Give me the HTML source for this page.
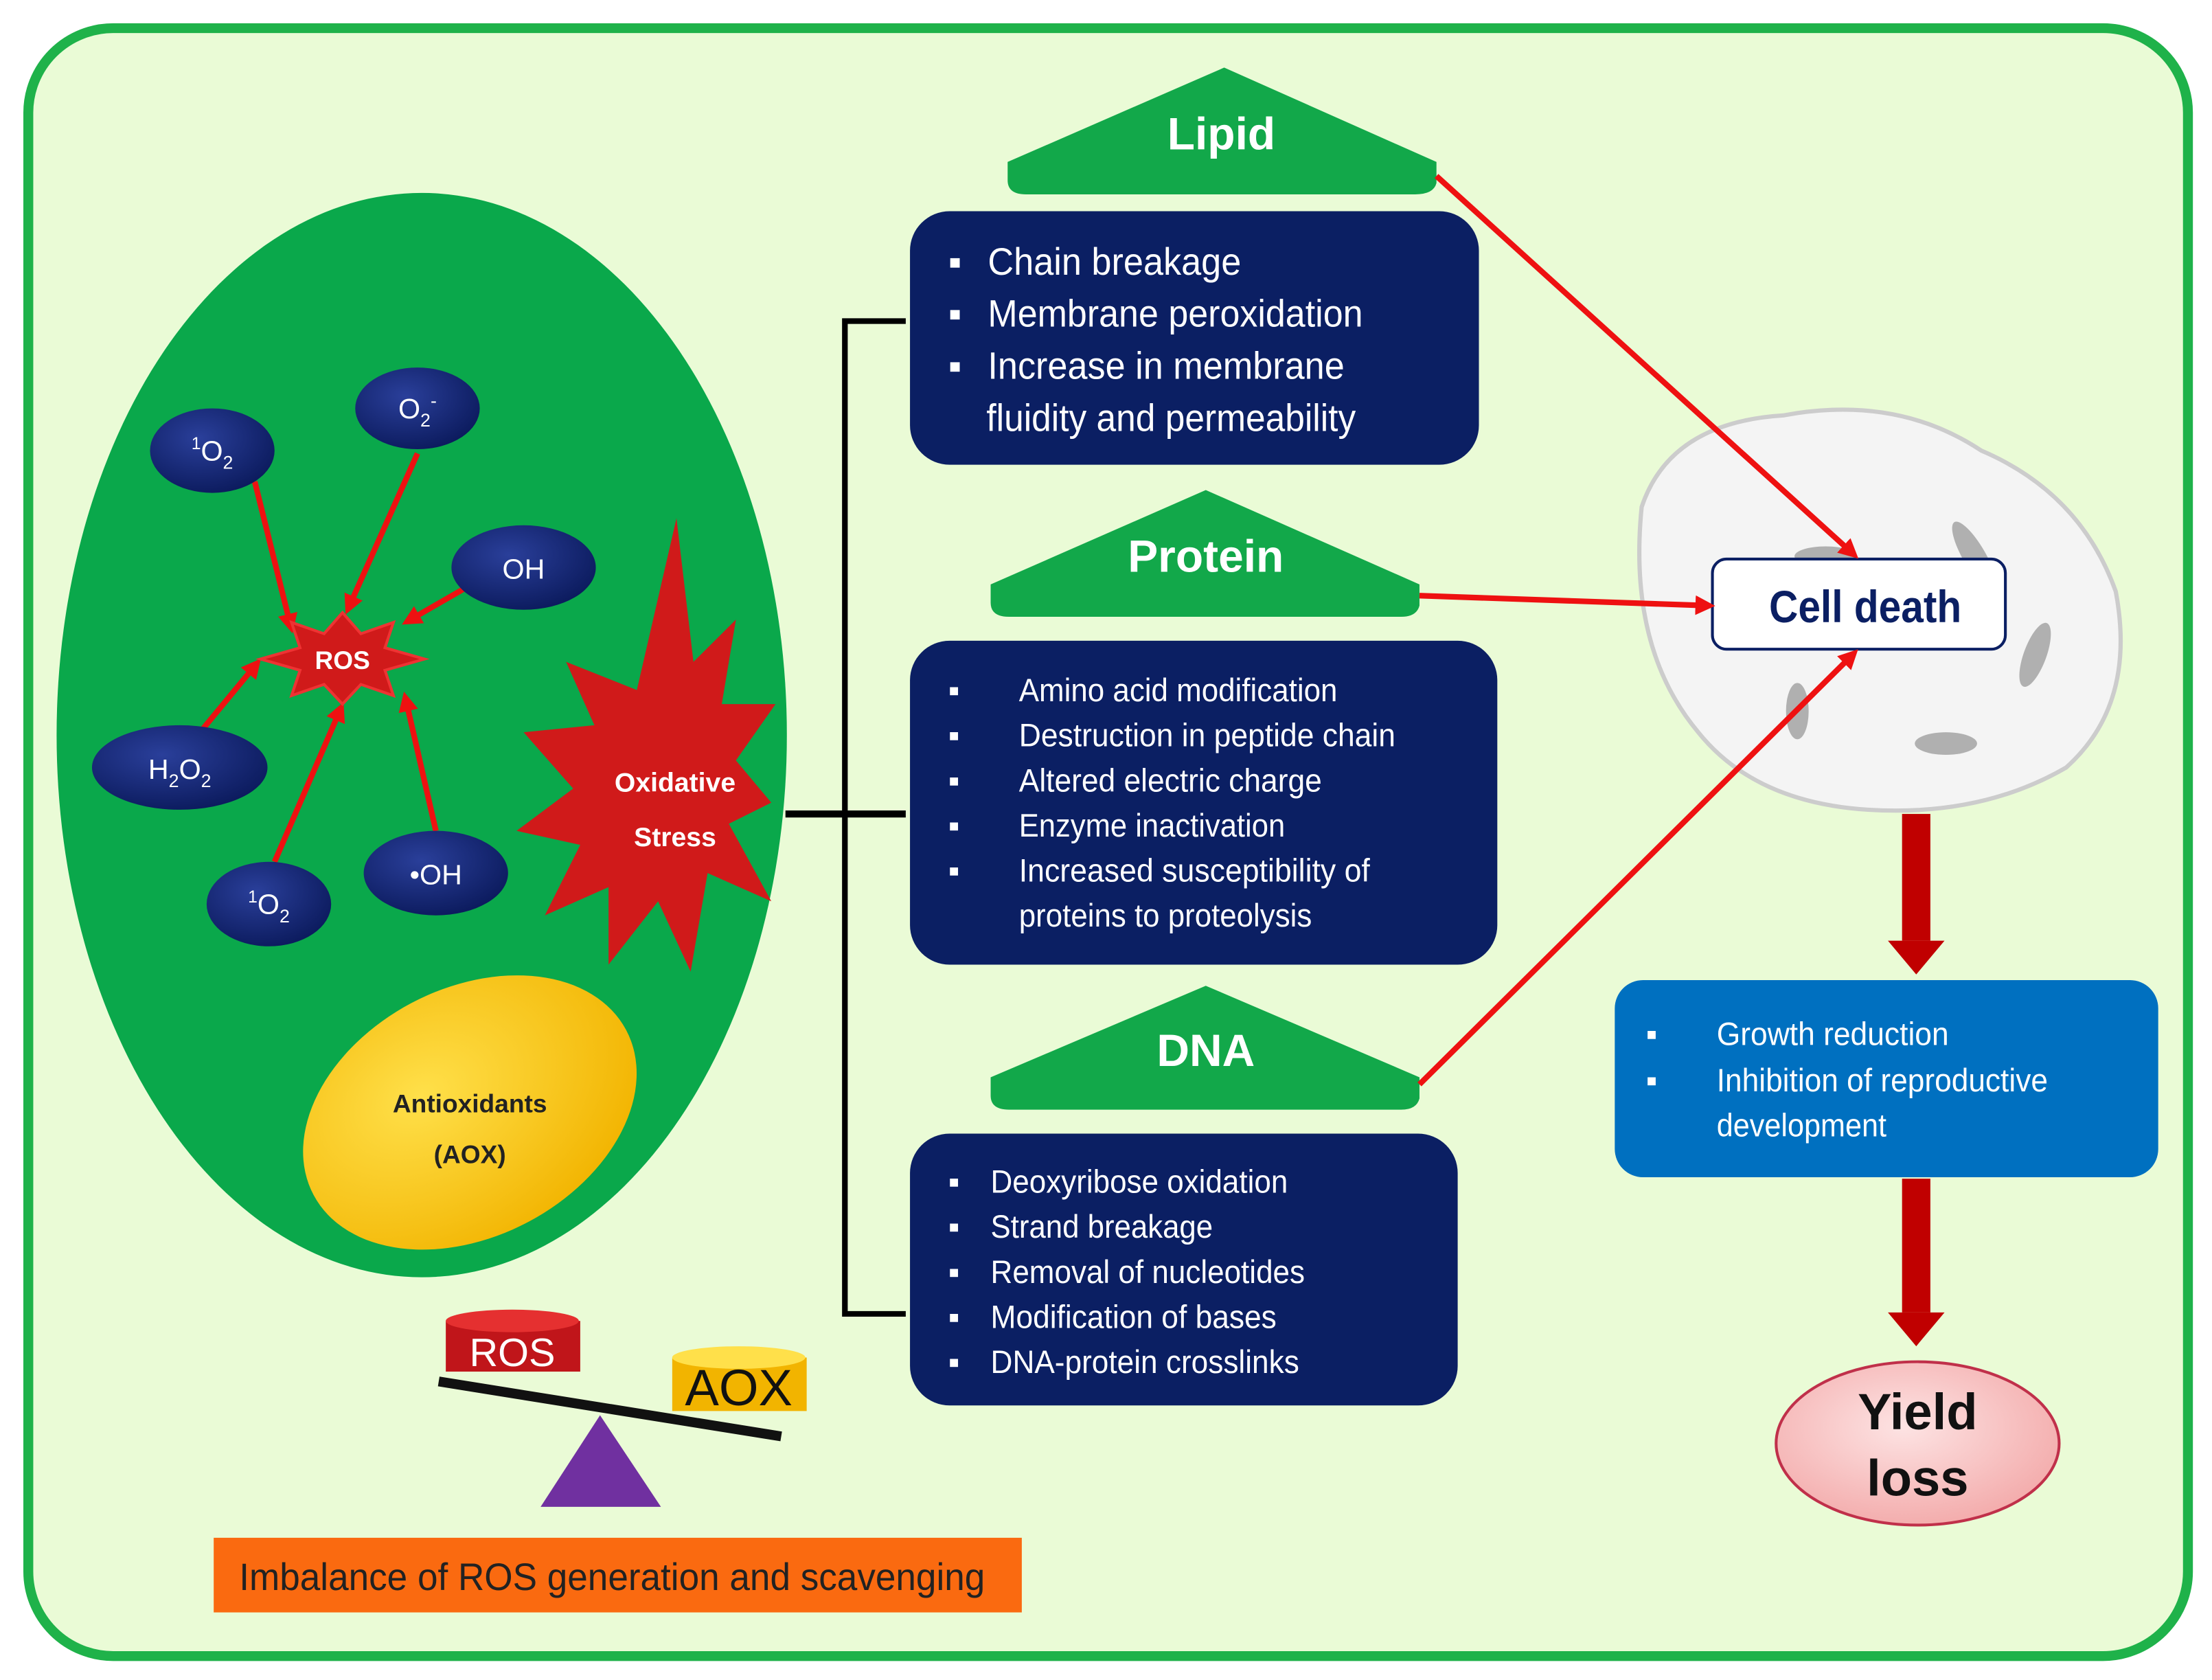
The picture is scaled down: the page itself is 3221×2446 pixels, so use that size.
<!DOCTYPE html>
<html><head><meta charset="utf-8"><style>
html,body{margin:0;padding:0;background:#fff;}
svg{display:block;}
text{font-family:"Liberation Sans",sans-serif;}
</style></head><body>
<svg width="3221" height="2446" viewBox="0 0 1563 1193" preserveAspectRatio="none" xmlns="http://www.w3.org/2000/svg">
<defs>
<marker id="ar2" markerWidth="14" markerHeight="14" refX="7" refY="7" orient="auto" markerUnits="userSpaceOnUse"><path d="M0,0 L14,7 L0,14 z" fill="#ee1111"/></marker>
<radialGradient id="nv" cx="0.4" cy="0.35" r="0.7"><stop offset="0" stop-color="#2a3f9a"/><stop offset="1" stop-color="#0b1a5c"/></radialGradient>
<radialGradient id="yl" cx="0.4" cy="0.35" r="0.7"><stop offset="0" stop-color="#ffe04a"/><stop offset="1" stop-color="#f2b400"/></radialGradient>
<radialGradient id="pk" cx="0.45" cy="0.4" r="0.7"><stop offset="0" stop-color="#fde3e3"/><stop offset="1" stop-color="#f2a4a4"/></radialGradient>
</defs>
<rect x="0" y="0" width="1563" height="1193" fill="#fff"/>
<rect x="20" y="20" width="1526" height="1156" rx="60" fill="#eafbd6" stroke="#1fb24a" stroke-width="7"/>
<ellipse cx="298" cy="522" rx="258" ry="385" fill="#0aa84b"/>
<g stroke="#ee1111" stroke-width="4" fill="none">
<line x1="180" y1="342" x2="205" y2="443" marker-end="url(#ar2)"/>
<line x1="295" y1="322" x2="247" y2="430" marker-end="url(#ar2)"/>
<line x1="328" y1="418" x2="290" y2="440" marker-end="url(#ar2)"/>
<line x1="143" y1="518" x2="180" y2="473" marker-end="url(#ar2)"/>
<line x1="194" y1="612" x2="240" y2="505" marker-end="url(#ar2)"/>
<line x1="308" y1="590" x2="287" y2="498" marker-end="url(#ar2)"/>
</g>
<g fill="url(#nv)">
<ellipse cx="150" cy="320" rx="44" ry="30"/>
<ellipse cx="295" cy="290" rx="44" ry="29"/>
<ellipse cx="370" cy="403" rx="51" ry="30"/>
<ellipse cx="127" cy="545" rx="62" ry="30"/>
<ellipse cx="190" cy="642" rx="44" ry="30"/>
<ellipse cx="308" cy="620" rx="51" ry="30"/>
</g>
<g fill="#fff" font-size="20" text-anchor="middle">
<text x="150" y="327"><tspan font-size="12" dy="-8">1</tspan><tspan dy="8">O</tspan><tspan font-size="13" dy="6">2</tspan></text>
<text x="295" y="297">O<tspan font-size="13" dy="6">2</tspan><tspan font-size="13" dy="-14">-</tspan></text>
<text x="370" y="411">OH</text>
<text x="127" y="553">H<tspan font-size="13" dy="6">2</tspan><tspan dy="-6">O</tspan><tspan font-size="13" dy="6">2</tspan></text>
<text x="190" y="649"><tspan font-size="12" dy="-8">1</tspan><tspan dy="8">O</tspan><tspan font-size="13" dy="6">2</tspan></text>
<text x="308" y="628">•OH</text>
</g>
<polygon points="242,435 255,450 278,442 272,460 300,468 272,476 278,494 255,486 242,500 229,486 206,494 212,476 184,468 212,460 206,442 229,450" fill="#d01a1a" stroke="#ee3333" stroke-width="2"/>
<text x="242" y="475" fill="#fff" font-size="18" font-weight="bold" text-anchor="middle">ROS</text>
<polygon points="478,368 490,470 520,440 510,500 548,500 520,540 545,570 515,585 545,640 500,620 488,690 465,640 430,685 430,630 385,650 410,600 365,590 405,560 370,520 420,515 400,470 450,490" fill="#d01a1a"/>
<text x="477" y="562" fill="#fff" font-size="19" font-weight="bold" text-anchor="middle">Oxidative</text>
<text x="477" y="601" fill="#fff" font-size="19" font-weight="bold" text-anchor="middle">Stress</text>
<ellipse cx="332" cy="790" rx="125" ry="88" transform="rotate(-28 332 790)" fill="url(#yl)"/>
<text x="332" y="790" font-size="18" font-weight="bold" text-anchor="middle" fill="#222">Antioxidants</text>
<text x="332" y="826" font-size="18" font-weight="bold" text-anchor="middle" fill="#222">(AOX)</text>
<polygon points="424,1005 382,1070 467,1070" fill="#7030a0"/>
<line x1="310" y1="981" x2="552" y2="1020" stroke="#111" stroke-width="7"/>
<rect x="315" y="938" width="95" height="36" fill="#c0151a"/>
<ellipse cx="362" cy="938" rx="47" ry="8" fill="#e53030"/>
<text x="362" y="970" fill="#fff" font-size="28" text-anchor="middle">ROS</text>
<rect x="475" y="964" width="95" height="38" fill="#f2b400"/>
<ellipse cx="522" cy="964" rx="47" ry="8" fill="#ffe04a"/>
<text x="522" y="998" fill="#111" font-size="36" text-anchor="middle">AOX</text>
<rect x="151" y="1092" width="571" height="53" fill="#fa6a10"/>
<text x="169" y="1129" font-size="27" fill="#222" textLength="527" lengthAdjust="spacingAndGlyphs">Imbalance of ROS generation and  scavenging</text>
<path d="M640,228 L597,228 L597,933 L640,933" stroke="#000" stroke-width="4" fill="none"/>
<path d="M555,578 L640,578" stroke="#000" stroke-width="5"/>
<g fill="#12a84a">
<path d="M865,48 L1015,115 L1015,130 Q1013,138 1000,138 L725,138 Q712,138 712,128 L712,115 Z"/>
<path d="M852,348 L1003,415 L1003,430 Q1001,438 990,438 L713,438 Q700,438 700,428 L700,415 Z"/>
<path d="M852,700 L1003,765 L1003,780 Q1001,788 990,788 L713,788 Q700,788 700,778 L700,765 Z"/>
</g>
<g fill="#fff" font-size="32" font-weight="bold" text-anchor="middle">
<text x="863" y="106">Lipid</text>
<text x="852" y="406">Protein</text>
<text x="852" y="757">DNA</text>
</g>
<g fill="#0b1f63">
<rect x="643" y="150" width="402" height="180" rx="28"/>
<rect x="643" y="455" width="415" height="230" rx="28"/>
<rect x="643" y="805" width="387" height="193" rx="28"/>
</g>
<g fill="#fff" font-size="27" lengthAdjust="spacingAndGlyphs">
<text x="670" y="195">▪</text><text x="698" y="195" textLength="179" lengthAdjust="spacingAndGlyphs">Chain breakage</text>
<text x="670" y="232">▪</text><text x="698" y="232" textLength="265" lengthAdjust="spacingAndGlyphs">Membrane peroxidation</text>
<text x="670" y="269">▪</text><text x="698" y="269" textLength="252" lengthAdjust="spacingAndGlyphs">Increase in membrane</text>
<text x="697" y="306" textLength="261" lengthAdjust="spacingAndGlyphs">fluidity and permeability</text>
</g>
<g fill="#fff" font-size="23">
<text x="670" y="498">▪</text><text x="720" y="498" textLength="225" lengthAdjust="spacingAndGlyphs">Amino acid modification</text>
<text x="670" y="530">▪</text><text x="720" y="530" textLength="266" lengthAdjust="spacingAndGlyphs">Destruction in peptide chain</text>
<text x="670" y="562">▪</text><text x="720" y="562" textLength="214" lengthAdjust="spacingAndGlyphs">Altered electric charge</text>
<text x="670" y="594">▪</text><text x="720" y="594" textLength="188" lengthAdjust="spacingAndGlyphs">Enzyme inactivation</text>
<text x="670" y="626">▪</text><text x="720" y="626" textLength="248" lengthAdjust="spacingAndGlyphs">Increased susceptibility of</text>
<text x="720" y="658" textLength="207" lengthAdjust="spacingAndGlyphs">proteins to proteolysis</text>
</g>
<g fill="#fff" font-size="23">
<text x="670" y="847">▪</text><text x="700" y="847" textLength="210" lengthAdjust="spacingAndGlyphs">Deoxyribose oxidation</text>
<text x="670" y="879">▪</text><text x="700" y="879" textLength="157" lengthAdjust="spacingAndGlyphs">Strand breakage</text>
<text x="670" y="911">▪</text><text x="700" y="911" textLength="222" lengthAdjust="spacingAndGlyphs">Removal of nucleotides</text>
<text x="670" y="943">▪</text><text x="700" y="943" textLength="202" lengthAdjust="spacingAndGlyphs">Modification of bases</text>
<text x="670" y="975">▪</text><text x="700" y="975" textLength="218" lengthAdjust="spacingAndGlyphs">DNA-protein crosslinks</text>
</g>
<path d="M1160,360 Q1180,300 1260,295 Q1340,280 1400,320 Q1470,350 1495,420 Q1510,500 1460,545 Q1400,580 1320,575 Q1240,570 1200,520 Q1150,460 1160,360 Z" fill="#f4f4f4" stroke="#ccc" stroke-width="3"/>
<g fill="#b0b0b0">
<ellipse cx="1395" cy="395" rx="8" ry="28" transform="rotate(-30 1395 395)"/>
<ellipse cx="1438" cy="465" rx="8" ry="24" transform="rotate(20 1438 465)"/>
<ellipse cx="1375" cy="528" rx="22" ry="8"/>
<ellipse cx="1270" cy="505" rx="8" ry="20"/>
<ellipse cx="1290" cy="395" rx="22" ry="7"/>
</g>
<rect x="1210" y="397" width="207" height="64" rx="10" fill="#fff" stroke="#0b1f63" stroke-width="2"/>
<text x="1250" y="442" fill="#0b1f63" font-size="32" font-weight="bold" textLength="136" lengthAdjust="spacingAndGlyphs">Cell death</text>
<g stroke="#ee1111" stroke-width="4" fill="none">
<line x1="1015" y1="125" x2="1308" y2="392" marker-end="url(#ar2)"/>
<line x1="1003" y1="423" x2="1205" y2="430" marker-end="url(#ar2)"/>
<line x1="1003" y1="770" x2="1308" y2="466" marker-end="url(#ar2)"/>
</g>
<g fill="#c00000">
<rect x="1344" y="578" width="20" height="90"/>
<polygon points="1334,668 1374,668 1354,692"/>
<rect x="1344" y="837" width="20" height="95"/>
<polygon points="1334,932 1374,932 1354,956"/>
</g>
<rect x="1141" y="696" width="384" height="140" rx="20" fill="#0070c0"/>
<g fill="#fff" font-size="23">
<text x="1163" y="742">▪</text><text x="1213" y="742" textLength="164" lengthAdjust="spacingAndGlyphs">Growth reduction</text>
<text x="1163" y="775">▪</text><text x="1213" y="775" textLength="234" lengthAdjust="spacingAndGlyphs">Inhibition of reproductive</text>
<text x="1213" y="807" textLength="120" lengthAdjust="spacingAndGlyphs">development</text>
</g>
<ellipse cx="1355" cy="1025" rx="100" ry="58" fill="url(#pk)" stroke="#c0304a" stroke-width="2"/>
<text x="1355" y="1015" font-size="36" font-weight="bold" text-anchor="middle" fill="#111">Yield</text>
<text x="1355" y="1062" font-size="36" font-weight="bold" text-anchor="middle" fill="#111">loss</text>
</svg>
</body></html>
